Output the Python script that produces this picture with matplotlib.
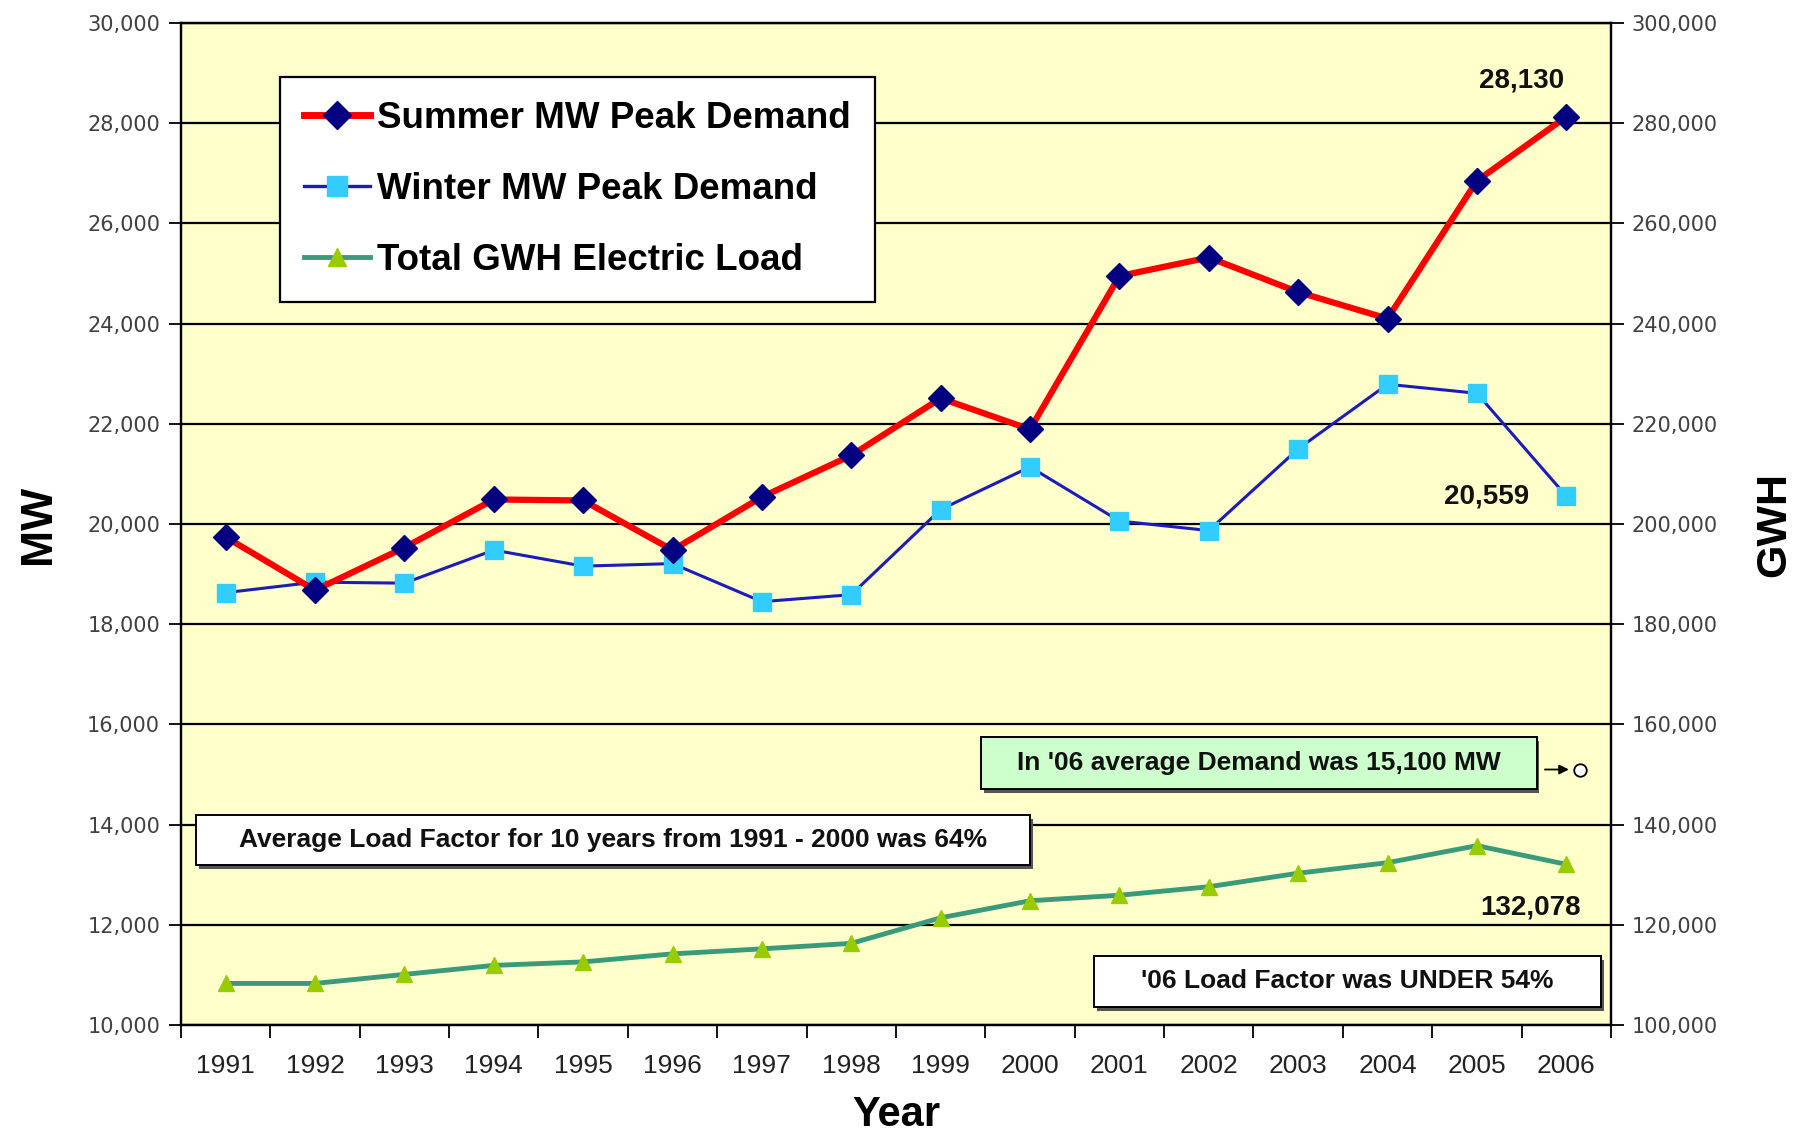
import matplotlib
matplotlib.use("Agg")

import matplotlib.pyplot as plt
from matplotlib.patches import Rectangle
from matplotlib.lines import Line2D
from matplotlib.ticker import StrMethodFormatter, FixedLocator

years = ["1991", "1992", "1993", "1994", "1995", "1996", "1997", "1998",
         "1999", "2000", "2001", "2002", "2003", "2004", "2005", "2006"]
summer_mw = [19740, 18680, 19530, 20490, 20470, 19480, 20540, 21370,
             22510, 21890, 24950, 25320, 24630, 24100, 26850, 28130]
winter_mw = [18630, 18840, 18820, 19480, 19160, 19210, 18450, 18590,
             20290, 21140, 20060, 19870, 21500, 22790, 22610, 20559]
total_gwh = [108300, 108300, 110100, 111900, 112600, 114200, 115200, 116300,
             121400, 124800, 125900, 127600, 130300, 132400, 135800, 132078]
avg_demand_06 = 15100

narrow = ["Liberation Sans Narrow", "Liberation Sans", "DejaVu Sans"]
arial = ["Liberation Sans", "DejaVu Sans"]

fig = plt.figure(figsize=(18.04, 11.35), dpi=100)
ax = fig.add_axes([0.1003, 0.0969, 0.7927, 0.8828])
ax.set_facecolor("#FFFFCC")
x = list(range(len(years)))

ax.plot(x, summer_mw, color="#FF0000", lw=4.5, marker="D", ms=13,
        mfc="#000080", mec="#000080", zorder=4)
ax.plot(x, winter_mw, color="#1C1CB8", lw=2.2, marker="s", ms=13,
        mfc="#33CCFF", mec="#33CCFF", zorder=3)
ax.set_xlim(-0.5, len(years) - 0.5)
ax.set_ylim(10000, 30000)
ax.set_yticks(range(10000, 30001, 2000))
ax.yaxis.set_major_formatter(StrMethodFormatter("{x:,.0f}"))
ax.grid(axis="y", color="black", lw=1.6)
ax.set_axisbelow(True)

ax.set_xticks(x)
ax.set_xticklabels(years, family=narrow, fontsize=19, color="#222222")
ax.tick_params(axis="x", which="major", length=0, pad=21)
ax.xaxis.set_minor_locator(FixedLocator([i - 0.5 for i in range(len(years) + 1)]))
ax.tick_params(axis="x", which="minor", length=9, width=1.3, direction="out")
ax.tick_params(axis="y", length=9, width=1.3, labelsize=15, labelcolor="#404040", pad=6)

ax2 = ax.twinx()
ax2.plot(x, total_gwh, color="#3A9A7A", lw=3.5, marker="^", ms=12,
         mfc="#99CC00", mec="#99CC00", zorder=3)
ax2.set_ylim(100000, 300000)
ax2.set_yticks(range(100000, 300001, 20000))
ax2.yaxis.set_major_formatter(StrMethodFormatter("{x:,.0f}"))
ax2.tick_params(axis="y", length=9, width=1.3, labelsize=15, labelcolor="#404040", pad=6)

for a in (ax, ax2):
    for s in a.spines.values():
        s.set_linewidth(1.6)
        s.set_color("black")

ax.set_ylabel("MW", family=arial, fontsize=32, fontweight="bold", labelpad=20)
ax2.set_ylabel("GWH", family=arial, fontsize=31, fontweight="bold", labelpad=26)
ax.set_xlabel("Year", family=narrow, fontsize=30, fontweight="bold", labelpad=12)

# value labels on the 2006 points
lab = dict(family=narrow, fontsize=20, fontweight="bold", color="#111111",
           textcoords="offset pixels", ha="center", va="center")
ax2.annotate(f"{summer_mw[-1]:,}", xy=(x[-1], summer_mw[-1] * 10), xytext=(-45, 36), **lab)
ax2.annotate(f"{winter_mw[-1]:,}", xy=(x[-1], winter_mw[-1] * 10), xytext=(-80, 0), **lab)
ax2.annotate(f"{total_gwh[-1]:,}", xy=(x[-1], total_gwh[-1]), xytext=(-36, -43), **lab)

# legend
handles = [
    Line2D([], [], color="#FF0000", lw=5, marker="D", ms=14, mfc="#000080", mec="#000080"),
    Line2D([], [], color="#1C1CB8", lw=2.4, marker="s", ms=14, mfc="#33CCFF", mec="#33CCFF"),
    Line2D([], [], color="#3A9A7A", lw=3.5, marker="^", ms=13, mfc="#99CC00", mec="#99CC00"),
]
labels = ["Summer MW Peak Demand", "Winter MW Peak Demand", "Total GWH Electric Load"]
leg = ax2.legend(handles, labels, loc="upper left", bbox_to_anchor=(0.069, 0.946),
                 prop=dict(family=arial, size=26.5, weight="bold"), frameon=True,
                 fancybox=False, edgecolor="black", framealpha=1, handlelength=1.8,
                 handletextpad=0.2, labelspacing=0.98, borderpad=0.65, borderaxespad=0)
leg.get_frame().set_linewidth(1.6)
leg.set_zorder(10)

# text boxes
def note(x0, x1, y0, y1, text, face):
    ax2.add_patch(Rectangle((x0 + 0.002, y0 - 0.004), x1 - x0, y1 - y0, transform=ax2.transAxes,
                            facecolor="#555555", edgecolor="none", zorder=8))
    ax2.add_patch(Rectangle((x0, y0), x1 - x0, y1 - y0, transform=ax2.transAxes,
                            facecolor=face, edgecolor="black", lw=1.4, zorder=9))
    ax2.text((x0 + x1) / 2, (y0 + y1) / 2, text, transform=ax2.transAxes, ha="center",
             va="center", family=narrow, fontsize=19, fontweight="bold", color="#111111", zorder=11)

note(0.0105, 0.594, 0.160, 0.2096, "Average Load Factor for 10 years from 1991 - 2000 was 64%", "white")
note(0.5594, 0.948, 0.2355, 0.2874, "In '06 average Demand was 15,100 MW", "#CCFFCC")
note(0.6385, 0.993, 0.018, 0.0689, "'06 Load Factor was UNDER 54%", "white")

ax.plot([15.15], [avg_demand_06], marker="o", ms=9, mfc="white", mec="black", mew=1.3, zorder=5)
ax.annotate("", xy=(15.06, avg_demand_06), xytext=(14.73, avg_demand_06),
            arrowprops=dict(arrowstyle="-|>", color="black", lw=1.3, mutation_scale=14), zorder=5)

fig.savefig("out.png", dpi=100, facecolor="white")
plt.close(fig)
